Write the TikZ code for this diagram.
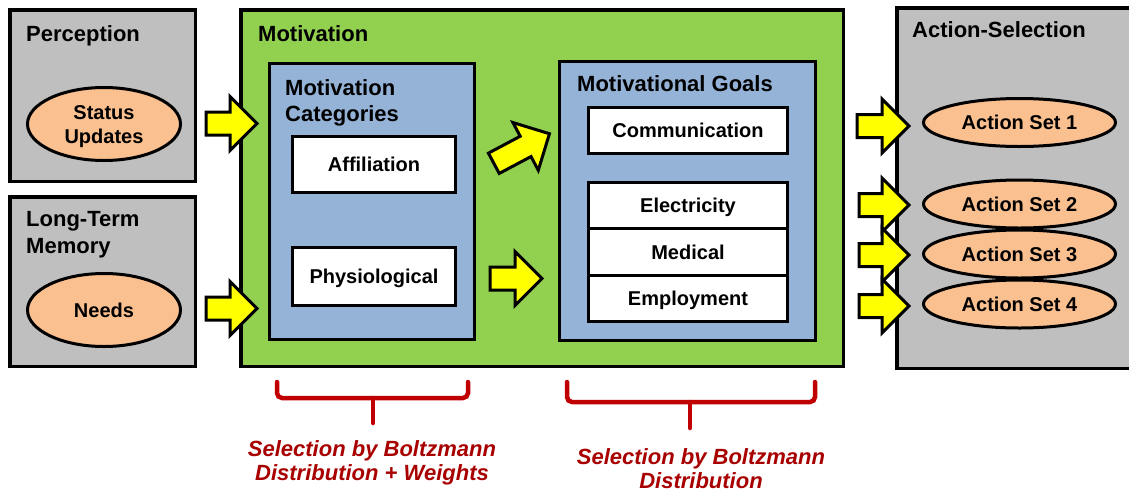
\documentclass[tikz,border=0pt]{standalone}
\usepackage{fontspec}
\setmainfont{Liberation Sans}
\usetikzlibrary{shapes.geometric,shapes.arrows}
\definecolor{boxgray}{HTML}{BFBFBF}
\definecolor{motgreen}{HTML}{92D050}
\definecolor{catblue}{HTML}{95B3D7}
\definecolor{peach}{HTML}{FAC090}
\definecolor{arrowyellow}{HTML}{FFFF00}
\definecolor{bracered}{HTML}{C00000}
\definecolor{labelred}{HTML}{A80000}
\begin{document}
\begin{tikzpicture}[x=1pt,y=-1pt,
  bigbox/.style={rectangle, draw=black, line width=3.5pt, inner sep=0pt},
  graybox/.style={bigbox, fill=boxgray},
  greenbox/.style={bigbox, fill=motgreen},
  bluebox/.style={bigbox, fill=catblue, line width=3pt},
  whitebox/.style={rectangle, draw=black, fill=white, line width=3pt, inner sep=0pt, text height=14.3pt, text depth=0pt, font=\fontsize{20}{24}\selectfont\bfseries},
  oval/.style={ellipse, draw=black, fill=peach, line width=3pt, inner sep=0pt, align=center, text height=14.3pt, text depth=0pt, font=\fontsize{20}{24}\selectfont\bfseries},
  hdr/.style={inner sep=0pt, align=left, font=\fontsize{22}{27}\selectfont\bfseries},
  barrow/.style={single arrow, draw=black, fill=arrowyellow, line width=3pt, inner xsep=0pt, inner ysep=10pt, single arrow head extend=15.5pt, minimum width=0pt, anchor=tail},
  bracepath/.style={draw=bracered, line width=4.5pt, rounded corners=5pt, line cap=round},
  selnote/.style={inner sep=0pt, align=center, text=labelred, font=\fontsize{22}{24.5}\selectfont\bfseries\itshape}
]
\useasboundingbox (0,0) rectangle (1129,491);
\clip (0,0) rectangle (1129,491);

% Perception
\node[graybox, minimum width=185.5pt, minimum height=171.5pt] (perc) at (102.5,95.5) {};
\node[hdr, anchor=base west] (percT) at (26,41) {Perception};
\node[oval, text height=38.3pt, minimum width=153pt, minimum height=73pt] (status) at (104,124) {Status\\Updates};

% Long-Term Memory
\node[graybox, minimum width=185.5pt, minimum height=169.5pt] (ltm) at (102.5,281.5) {};
\node[hdr, anchor=west] (ltmT) at (26,235) {Long-Term\\Memory};
\node[oval, minimum width=153pt, minimum height=73pt] (needs) at (104,310) {Needs};

% Motivation
\node[greenbox, minimum width=602.5pt, minimum height=356.5pt] (motiv) at (542,188) {};
\node[hdr, anchor=base west] (motivT) at (258,41) {Motivation};

\node[bluebox, minimum width=205pt, minimum height=276pt] (cats) at (372,201.5) {};
\node[hdr, anchor=west, font=\fontsize{22}{26}\selectfont\bfseries] (catsT) at (285,102.5) {Motivation\\Categories};
\node[whitebox, minimum width=163pt, minimum height=56pt] (affil) at (374,164.5) {Affiliation};
\node[whitebox, minimum width=163pt, minimum height=58pt] (phys) at (374,276.5) {Physiological};

\node[bluebox, minimum width=256pt, minimum height=279pt] (goals) at (687.5,201) {};
\node[hdr, anchor=base west] (goalsT) at (577,91) {Motivational Goals};
\node[whitebox, minimum width=199pt, minimum height=46pt] (comm) at (688,130.5) {Communication};
\node[whitebox, minimum width=199pt, minimum height=46.33pt] (elec) at (688,205.7) {Electricity};
\node[whitebox, minimum width=199pt, minimum height=46.33pt] (med) at (688,252) {Medical};
\node[whitebox, minimum width=199pt, minimum height=46.33pt] (empl) at (688,298.3) {Employment};

% Action-Selection
\node[graybox, minimum width=246.5pt, minimum height=360.5pt] (act) at (1020,188) {};
\node[hdr, anchor=base west] (actT) at (912,37) {Action-Selection};
\node[oval, minimum width=192pt, minimum height=48pt] (set1) at (1019.5,122.5) {Action Set 1};
\node[oval, minimum width=192pt, minimum height=48pt] (set2) at (1019.5,204) {Action Set 2};
\node[oval, minimum width=192pt, minimum height=48pt] (set3) at (1019.5,254) {Action Set 3};
\node[oval, minimum width=192pt, minimum height=48pt] (set4) at (1019.5,304) {Action Set 4};

% Block arrows
\node[barrow, minimum height=51pt] (a1) at (204.5,123.5) {};
\node[barrow, minimum height=51pt] (a2) at (204.5,308.5) {};
\node[barrow, minimum height=63pt, rotate=28] (a3) at (492.5,164) {};
\node[barrow, minimum height=52pt] (a4) at (488.5,278.5) {};
\node[barrow, minimum height=52pt] (a5) at (855.5,126) {};
\node[barrow, minimum height=50pt] (a6) at (857.5,205) {};
\node[barrow, minimum height=50pt] (a7) at (857.5,255) {};
\node[barrow, minimum height=50pt] (a8) at (857.5,306) {};

% Braces
\draw[bracepath] (277,382) -- (277,398) -- (468,398) -- (468,382);
\draw[bracepath] (373,398) -- (373,423);
\draw[bracepath] (567,382) -- (567,402) -- (815,402) -- (815,382);
\draw[bracepath] (690,402) -- (690,428);

\node[selnote] (sel1) at (372,463) {Selection by Boltzmann\\Distribution + Weights};
\node[selnote] (sel2) at (701,468.5) {Selection by Boltzmann\\Distribution};
\end{tikzpicture}
\end{document}
